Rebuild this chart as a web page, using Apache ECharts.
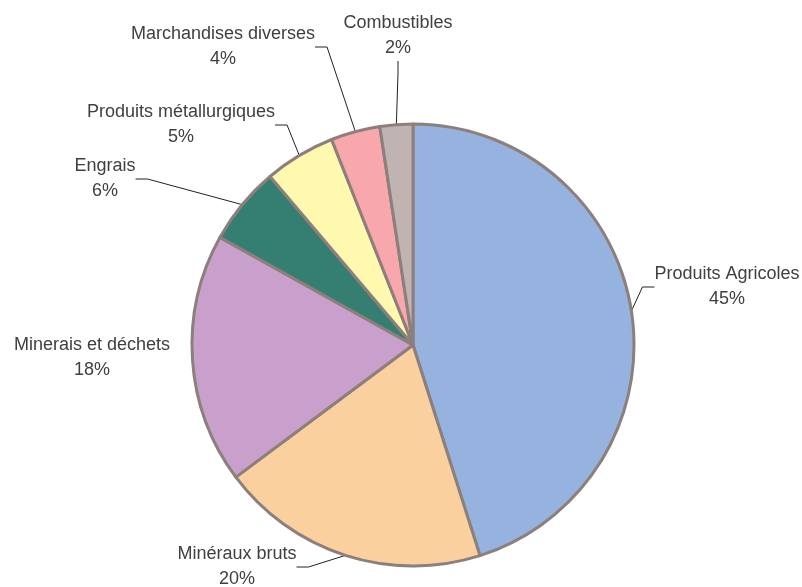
<!DOCTYPE html>
<html>
<head>
<meta charset="utf-8">
<script src="https://cdn.jsdelivr.net/npm/echarts@6/dist/echarts.min.js"></script>
<style>
html,body{margin:0;padding:0;background:#fff;}
#chart{width:802px;height:587px;}
</style>
</head>
<body>
<div id="chart"></div>
<script>
// Data
const categories = ['Produits Agricoles', 'Minéraux bruts', 'Minerais et déchets', 'Engrais', 'Produits métallurgiques', 'Marchandises diverses', 'Combustibles'];
const values = [45.1, 19.7, 18.3, 5.7, 5.2, 3.6, 2.4];
const colors = ['#95b3de', '#fad09f', '#c8a0cb', '#357f72', '#fff9b0', '#f8a8ad', '#c0b4b2'];
// label centre positions (layout)
const labelPos = [[727, 287], [237, 567], [92, 358], [105, 179], [181, 125], [223, 47], [398, 36]];

const chart = echarts.init(document.getElementById('chart'), null, {renderer: 'canvas'});
chart.setOption({
  backgroundColor: '#ffffff',
  animation: false,
  series: [{
    type: 'pie',
    center: [413, 345],
    radius: 221,
    startAngle: 90,
    clockwise: true,
    percentPrecision: 0,
    avoidLabelOverlap: false,
    itemStyle: {borderColor: '#8c7f7c', borderWidth: 3},
    label: {
      show: true,
      formatter: '{b}\n{d}%',
      fontFamily: 'Liberation Sans, Arial, sans-serif',
      fontSize: 18,
      lineHeight: 25,
      color: '#404040',
      align: 'center'
    },
    labelLine: {show: true, length: 20, length2: 12, lineStyle: {color: '#222', width: 1}},
    labelLayout: function (p) {
      const pos = labelPos[p.dataIndex];
      return {x: pos[0], y: pos[1], align: 'center', verticalAlign: 'middle'};
    },
    emphasis: {disabled: true},
    data: categories.map((c, i) => ({
      name: c, value: values[i], itemStyle: {color: colors[i]},
      labelLine: {show: i !== 2}
    }))
  }]
});
</script>
</body>
</html>
